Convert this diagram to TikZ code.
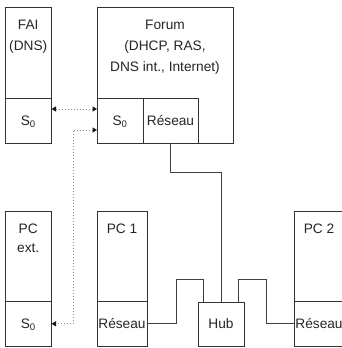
\documentclass[tikz,border=0pt]{standalone}
\usepackage{fontspec}
\setmainfont{Liberation Sans}
\usetikzlibrary{arrows.meta}
\begin{document}
\begin{tikzpicture}[x=1pt,y=-1pt,
  every node/.style={font=\fontsize{13.7}{20.5}\selectfont, text=black!85, inner sep=0pt, outer sep=0pt},
  box/.style={draw=black!80, line width=0.7pt},
  cell/.style={draw=black!80, line width=0.7pt, text height=9.8pt, text depth=0pt},
  txt/.style={anchor=base},
  wire/.style={draw=black!75, line width=0.7pt},
  tip/.style={Triangle[length=4.5pt,width=5pt,color=black!90,fill=black!90]},
  dots/.style={draw=black!45, line width=1pt, dash pattern=on 1pt off 2pt, {Triangle[length=4.5pt,width=5pt,color=black!90,fill=black!90]}-{Triangle[length=4.5pt,width=5pt,color=black!90,fill=black!90]}}
]
\useasboundingbox (0,0) rectangle (342,348);
\fill[white] (0,0) rectangle (342,348);

% upper boxes
\node[box, minimum width=46.5pt, minimum height=136pt] (fai) at (28.25,75) {};
\node[cell, minimum width=46.5pt, minimum height=45pt] (fais0) at (28.25,120.5) {S\textsubscript{0}};
\node[txt] (fait1) at (28.25,29) {FAI};
\node[txt] (fait2) at (28.25,50) {(DNS)};

\node[box, minimum width=136pt, minimum height=136pt] (forum) at (165,75) {};
\node[cell, minimum width=46pt, minimum height=45pt] (fs0) at (120,120.5) {S\textsubscript{0}};
\node[cell, minimum width=55pt, minimum height=45pt] (fres) at (170.5,120.5) {Réseau};
\node[txt] (fot1) at (165,29) {Forum};
\node[txt] (fot2) at (165,50) {(DHCP, RAS,};
\node[txt] (fot3) at (165,71) {DNS int., Internet)};

% lower boxes
\node[box, minimum width=46.5pt, minimum height=135pt] (pce) at (28.25,278.5) {};
\node[cell, minimum width=46.5pt, minimum height=44.5pt] (pes0) at (28.25,323.75) {S\textsubscript{0}};
\node[txt] (pet1) at (28.25,233) {PC};
\node[txt] (pet2) at (28.25,252) {ext.};

\node[box, minimum width=50pt, minimum height=135pt] (pc1) at (122,278.5) {};
\node[cell, minimum width=50pt, minimum height=44.5pt] (p1res) at (122,323.75) {Réseau};
\node[txt] (p1t) at (122,233) {PC 1};

\node[cell, minimum width=46pt, minimum height=44pt] (hub) at (221,324) {Hub};

\node[box, minimum width=50pt, minimum height=135pt] (pc2) at (319,278.5) {};
\node[cell, minimum width=50pt, minimum height=44.5pt] (p2res) at (319,323.75) {Réseau};
\node[txt] (p2t) at (319,233) {PC 2};

% wires
\draw[wire] (fres.south) -- ++(0,29) -| (hub.north);
\draw[wire] (p1res.east) -| (176,279) -| ([xshift=-18pt]hub.north);
\draw[wire] ([xshift=17pt]hub.north) |- (266,279) |- (p2res.west);

% dotted links
\draw[dots] ([yshift=11.5pt]fais0.east) -- ([yshift=11.5pt]fs0.west);
\coordinate (bend) at (73,130);
\draw[dots] ([yshift=-9.5pt]fs0.west) -- (bend) |- (pes0.east);
\end{tikzpicture}
\end{document}
